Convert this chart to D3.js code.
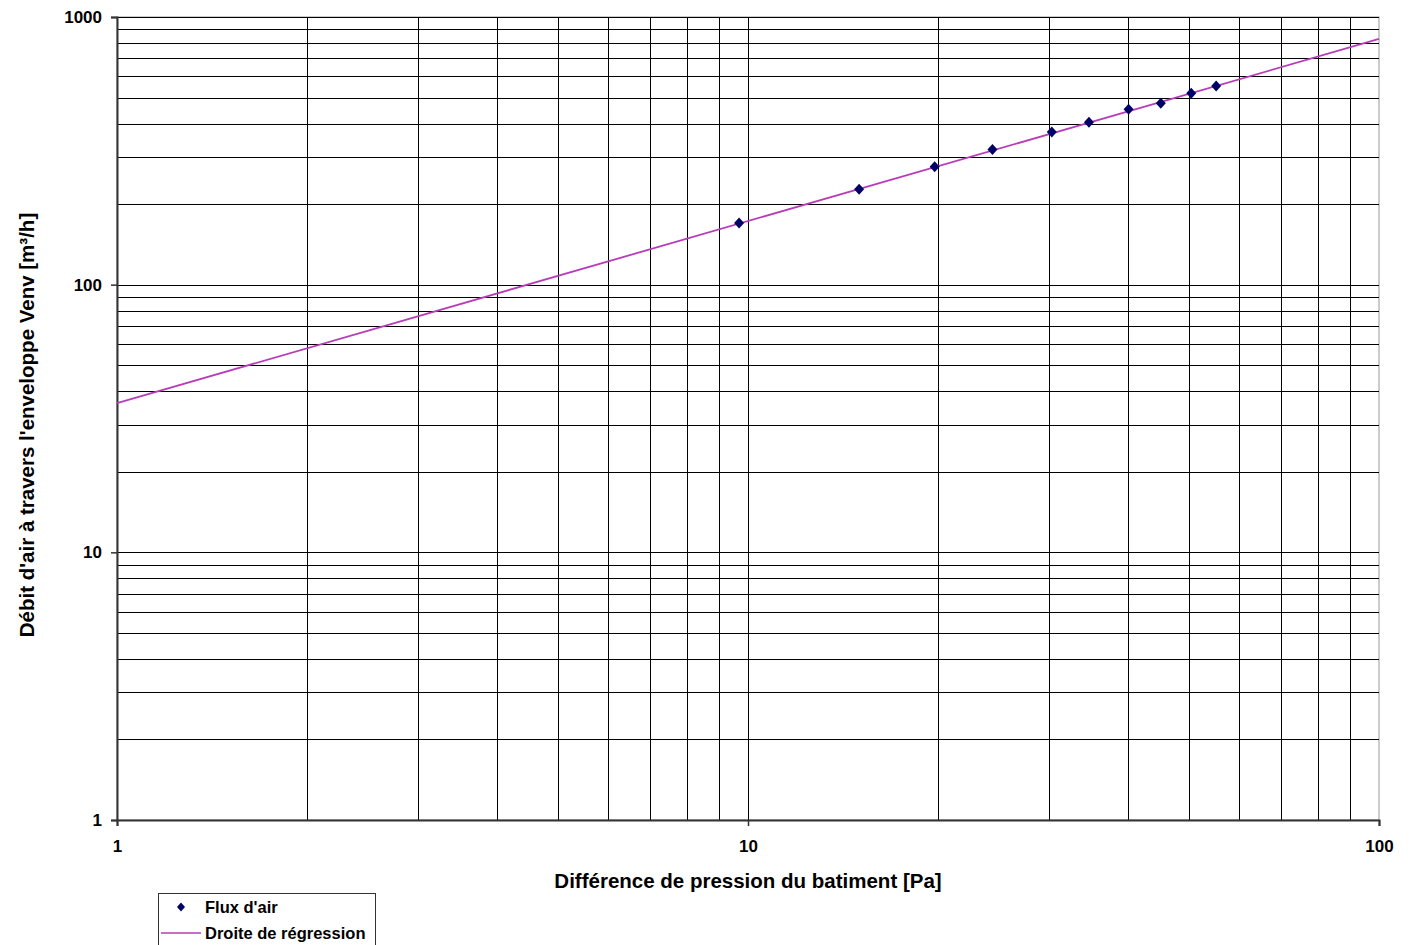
<!DOCTYPE html>
<html><head><meta charset="utf-8">
<script src="https://cdn.jsdelivr.net/npm/d3@7"></script>
<style>body{margin:0;background:#fff;} text{font-family:"Liberation Sans",Arial,sans-serif;font-weight:bold;}</style>
</head><body><svg id="c" width="1410" height="945"></svg>
<script>
// Measured points: pressure difference [Pa] and air flow [m3/h]
const pressure = [9.68, 15.0, 19.76, 24.4, 30.3, 34.7, 40.1, 45.1, 50.4, 55.2];
const airFlow  = [170, 227, 276, 320, 372, 404, 452, 476, 519, 552];
// Regression line endpoints
const regX = [1, 100];
const regY = [36.1, 828];
const xTickLabels = [1, 10, 100];
const yTickLabels = [1, 10, 100, 1000];
const seriesNames = ["Flux d'air", "Droite de régression"];

const svg = d3.select("#c");
const L = 117, R = 1379, T = 17, B = 820;
const x = d3.scaleLog().domain([1, 100]).range([L, R]);
const y = d3.scaleLog().domain([1, 1000]).range([B, T]);

const xGrid = [], yGrid = [];
for (let d = 1; d < 100; d *= 10) for (let k = 1; k <= 10; k++) xGrid.push(d * k);
for (let d = 1; d < 1000; d *= 10) for (let k = 1; k <= 10; k++) yGrid.push(d * k);

svg.append("rect").attr("x", L).attr("y", T).attr("width", R - L).attr("height", B - T)
  .attr("fill", "#fff").attr("stroke", "#999").attr("stroke-width", 1);

const g = svg.append("g");
g.selectAll(".vg").data([...new Set(xGrid)].filter(v => v > 1 && v < 100)).enter().append("line")
  .attr("x1", d => Math.round(x(d)) + 0.5).attr("x2", d => Math.round(x(d)) + 0.5)
  .attr("y1", T).attr("y2", B).attr("stroke", "#000").attr("stroke-width", 1);
g.selectAll(".hg").data([...new Set(yGrid)].filter(v => v > 1 && v <= 1000)).enter().append("line")
  .attr("y1", d => Math.round(y(d)) + 0.5).attr("y2", d => Math.round(y(d)) + 0.5)
  .attr("x1", L).attr("x2", R).attr("stroke", "#000").attr("stroke-width", 1);

const xAxis = d3.axisBottom(x).tickValues(xTickLabels).tickSize(6).tickPadding(14).tickFormat(d3.format("d"));
const yAxis = d3.axisLeft(y).tickValues(yTickLabels).tickSize(6).tickPadding(9).tickFormat(d3.format("d"));
const xa = svg.append("g").attr("transform", `translate(0,${B})`).call(xAxis);
const ya = svg.append("g").attr("transform", `translate(${L},0)`).call(yAxis);
[xa, ya].forEach(a => {
  a.select(".domain").attr("stroke", "#333").attr("stroke-width", 2);
  a.selectAll(".tick line").attr("stroke", "#333").attr("stroke-width", 1.5);
  a.selectAll("text").attr("font-size", 17).attr("fill", "#000")
    .style("font-family", '"Liberation Sans",Arial,sans-serif').style("font-weight", "bold");
});

const line = d3.line().x(d => x(d[0])).y(d => y(d[1]));
svg.append("path").datum(regX.map((v, i) => [v, regY[i]]))
  .attr("d", line).attr("fill", "none").attr("stroke", "#b83cb8").attr("stroke-width", 1.8);

const diamondPath = (w, h) => `M0,${-h}L${w},0L0,${h}L${-w},0Z`;
svg.selectAll(".pt").data(pressure.map((v, i) => [v, airFlow[i]])).enter().append("path")
  .attr("d", diamondPath(5, 5.5)).attr("transform", d => `translate(${x(d[0])},${y(d[1])})`)
  .attr("fill", "#000066");

svg.append("text").attr("x", 748).attr("y", 888).attr("text-anchor", "middle")
  .attr("font-size", 20.5).text("Différence de pression du batiment [Pa]");
svg.append("text").attr("transform", "translate(34,425) rotate(-90)").attr("text-anchor", "middle")
  .attr("font-size", 20.5).text("Débit d'air à travers l'enveloppe Venv [m³/h]");

const lg = svg.append("g");
lg.append("rect").attr("x", 158.5).attr("y", 893.5).attr("width", 217).attr("height", 60)
  .attr("fill", "#fff").attr("stroke", "#333").attr("stroke-width", 1);
lg.append("path").attr("d", diamondPath(4, 4.5))
  .attr("transform", "translate(181,907)").attr("fill", "#000066");
lg.append("line").attr("x1", 161).attr("x2", 201).attr("y1", 933).attr("y2", 933)
  .attr("stroke", "#b83cb8").attr("stroke-width", 1.6);
lg.append("text").attr("x", 205).attr("y", 913).attr("font-size", 16.5).text(seriesNames[0]);
lg.append("text").attr("x", 205).attr("y", 939).attr("font-size", 16.5).text(seriesNames[1]);
</script></body></html>
